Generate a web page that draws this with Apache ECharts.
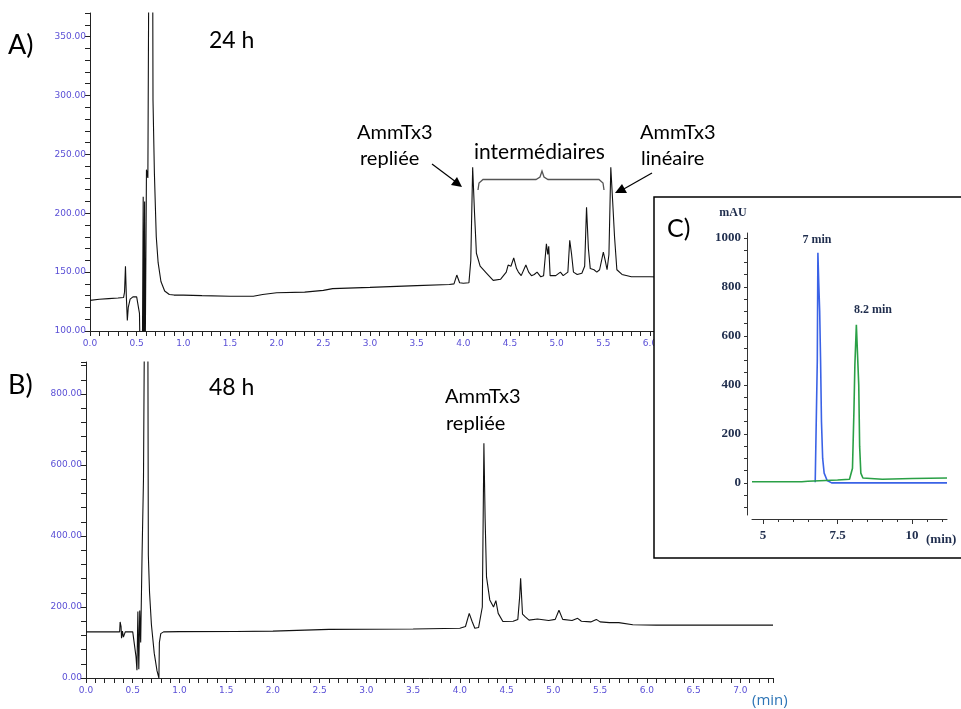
<!DOCTYPE html>
<html>
<head>
<meta charset="utf-8">
<script src="https://cdn.jsdelivr.net/npm/echarts@6/dist/echarts.min.js"></script>
<style>html,body{margin:0;padding:0;background:#fff;}#c{width:961px;height:709px;}</style>
</head>
<body>
<div id="c"></div>
<script>
// ---- Panel A (24 h) ----
const tA = [0.00,0.10,0.20,0.30,0.36,0.37,0.38,0.39,0.40,0.41,0.43,0.46,0.50,0.52,0.53,0.54,0.55,0.56,0.57,0.575,0.585,0.59,0.605,0.62,0.635,0.66,0.675,0.69,0.71,0.73,0.76,0.80,0.85,0.90,1.00,1.20,1.50,1.75,1.85,2.00,2.30,2.50,2.60,3.00,3.50,3.85,3.90,3.93,3.96,4.00,4.06,4.08,4.10,4.12,4.14,4.18,4.25,4.32,4.40,4.46,4.48,4.51,4.54,4.57,4.59,4.62,4.67,4.70,4.73,4.76,4.79,4.83,4.86,4.88,4.89,4.905,4.915,4.93,4.99,5.04,5.07,5.12,5.14,5.16,5.18,5.22,5.27,5.30,5.32,5.34,5.36,5.40,5.43,5.46,5.50,5.52,5.54,5.56,5.58,5.60,5.62,5.645,5.70,5.80,5.90,6.00,6.50,7.00,7.35];
const vA = [126,127,127.5,128,128.5,133,155,128,109,120,127,129,129,128,115,60,80,60,214,80,210,60,237,230,500,800,296,234,180,158,142,134,131,130.5,130.5,130,129.5,129.5,131,132.5,133,134.5,136,137,138.5,139.5,140,147.5,141,140.5,141,160,239,200,166,155,149,143,144,150,156,155,162,153,150,147,156,150,147,148,150,146,147,165,174,165,172,147,147,150,147,150,177,165,150,148,149,155,205,170,153,152,150,152,167,160,152,165,239,210,180,152,148,146,146,146,145,145,145];

// ---- Panel B (48 h) ----
const tB = [0.00,0.30,0.36,0.365,0.375,0.38,0.39,0.40,0.42,0.50,0.52,0.535,0.545,0.555,0.565,0.575,0.585,0.60,0.615,0.63,0.645,0.66,0.667,0.68,0.70,0.73,0.76,0.78,0.785,0.80,0.83,1.00,1.60,2.00,2.60,3.50,4.00,4.06,4.10,4.13,4.16,4.20,4.24,4.257,4.27,4.285,4.32,4.36,4.385,4.41,4.46,4.57,4.62,4.64,4.65,4.67,4.70,4.72,4.74,4.83,4.95,5.02,5.06,5.10,5.20,5.26,5.30,5.40,5.46,5.50,5.60,5.70,5.85,6.10,7.00,7.35];
const vB = [130,130,130,158,145,112,132,115,130,130,130,60,22,187,25,190,100,350,560,1200,2000,1200,346,240,150,70,20,0,100,125,130,130.5,131,132,137,138,140,145,182,160,140,142,200,661,450,285,220,200,218,182,159,160,165,230,281,180,172,175,163,166,162,165,191,165,162,168,160,158,165,158,156,156,150,149,149,149];

// ---- Panel C (inset) ----
const tC7 = [6.75,6.80,6.82,6.84,6.87,6.90,6.93,6.96,7.00,7.05,7.15,7.30,11.17];
const vC7 = [3,3,500,939,810,700,500,250,100,40,10,0,0];
const tC82 = [4.63,6.30,6.50,7.50,7.90,8.00,8.05,8.08,8.13,8.18,8.21,8.24,8.28,8.35,9.00,10.00,11.17];
const vC82 = [5,5,7,12,15,60,300,480,645,640,400,150,40,20,15,18,20];

// tick labels
const xTicksAB = [0,0.5,1,1.5,2,2.5,3,3.5,4,4.5,5,5.5,6,6.5,7];
const yTicksA = [100,150,200,250,300,350];
const yTicksB = [0,200,400,600,800];
const xLabelsC = [5,7.5,10];
const yLabelsC = [0,200,400,600,800,1000];

const pairs = (t, v) => t.map((x, i) => [x, v[i]]);
const near = (v, arr) => arr.some(a => Math.abs(a - v) < 1e-6);

const tickColor = '#5a4fd6';
const axisCol = '#222';
const smallFont = {fontFamily: 'DejaVu Sans', fontSize: 9, color: tickColor};
const serifLbl = {fontFamily: 'Liberation Serif', fontWeight: 'bold', fontSize: 13, color: '#1f2d4d'};

function chromX(gi) {
  return {
    type: 'value', gridIndex: gi, min: 0, max: 7.35, interval: 0.5, position: 'bottom',
    axisLine: {show: true, onZero: false, lineStyle: {color: axisCol, width: 1}},
    axisTick: {show: true, length: 5, lineStyle: {color: axisCol}},
    minorTick: {show: true, splitNumber: 5, length: 5, lineStyle: {color: axisCol}},
    splitLine: {show: false}, minorSplitLine: {show: false},
    axisLabel: Object.assign({margin: 8, formatter: v => near(v, xTicksAB) ? v.toFixed(1) : ''}, smallFont)
  };
}
function chromY(gi, min, max, interval, ticks) {
  return {
    type: 'value', gridIndex: gi, min: min, max: max, interval: interval, position: 'left',
    axisLine: {show: true, onZero: false, lineStyle: {color: axisCol, width: 1}},
    axisTick: {show: true, length: 5, lineStyle: {color: axisCol}},
    minorTick: {show: true, splitNumber: 5, length: 5, lineStyle: {color: axisCol}},
    splitLine: {show: false}, minorSplitLine: {show: false},
    axisLabel: Object.assign({margin: 4, formatter: v => near(v, ticks) ? v.toFixed(2) : ''}, smallFont)
  };
}

const chart = echarts.init(document.getElementById('c'), null, {renderer: 'canvas'});

const txt = (x, y, text, font) => ({
  type: 'text', x: x, y: y, z: 80,
  style: {text: text, font: font, fill: '#000', align: 'left', verticalAlign: 'middle'}
});
const stxt = (x, y, text, font, align) => ({
  type: 'text', x: x, y: y, z: 90,
  style: {text: text, font: font, fill: '#1f2d4d', align: align, verticalAlign: 'middle'}
});

const option = {
  animation: false,
  backgroundColor: '#fff',
  grid: [
    {left: 90, top: 13, width: 686, height: 318},
    {left: 86, top: 362, width: 687, height: 316},
    {left: 752, top: 233, width: 195, height: 282}
  ],
  xAxis: [
    chromX(0),
    chromX(1),
    {
      type: 'value', gridIndex: 2, min: 4.63, max: 11.17, offset: 4, z: 60, position: 'bottom',
      axisLine: {show: true, onZero: false, lineStyle: {color: '#333', width: 1}},
      axisTick: {show: true, length: 5, customValues: xLabelsC, lineStyle: {color: '#333'}},
      splitLine: {show: false},
      axisLabel: Object.assign({margin: 10, customValues: xLabelsC, formatter: v => String(v)}, serifLbl)
    },
    {
      type: 'value', gridIndex: 2, min: 4.63, max: 11.17, offset: 4, z: 60, position: 'bottom',
      axisLine: {show: false, onZero: false},
      axisTick: {show: true, length: 3, customValues: [5.5,6,6.5,7,8,8.5,9,9.5,10.5,11], lineStyle: {color: '#333'}},
      splitLine: {show: false},
      axisLabel: {show: false}
    }
  ],
  yAxis: [
    chromY(0, 100, 370, 50, yTicksA),
    chromY(1, 0, 890, 200, yTicksB),
    {
      type: 'value', gridIndex: 2, min: -131, max: 1020, offset: 5, z: 60, position: 'left',
      axisLine: {show: true, onZero: false, lineStyle: {color: '#333', width: 1}},
      axisTick: {show: true, length: 3, customValues: [-100,-50,0,50,100,150,200,250,300,350,400,450,500,550,600,650,700,750,800,850,900,950,1000], lineStyle: {color: '#333'}},
      splitLine: {show: false},
      axisLabel: Object.assign({margin: 6, customValues: yLabelsC, formatter: v => String(v)}, serifLbl)
    }
  ],
  series: [
    {type: 'line', name: '24 h', xAxisIndex: 0, yAxisIndex: 0, data: pairs(tA, vA), showSymbol: false, symbol: 'none', clip: true, lineStyle: {color: '#111', width: 1.1}},
    {type: 'line', name: '48 h', xAxisIndex: 1, yAxisIndex: 1, data: pairs(tB, vB), showSymbol: false, symbol: 'none', clip: true, lineStyle: {color: '#111', width: 1.1}},
    {type: 'line', name: '7 min', xAxisIndex: 2, yAxisIndex: 2, z: 60, data: pairs(tC7, vC7), showSymbol: false, symbol: 'none', clip: true, lineStyle: {color: '#3a62e6', width: 1.6}},
    {type: 'line', name: '8.2 min', xAxisIndex: 2, yAxisIndex: 2, z: 61, data: pairs(tC82, vC82), showSymbol: false, symbol: 'none', clip: true, lineStyle: {color: '#2aa046', width: 1.6}}
  ],
  graphic: [
    // inset box
    {type: 'rect', z: 50, shape: {x: 654, y: 197, width: 320, height: 361}, style: {fill: '#fff', stroke: '#000', lineWidth: 1.5}},
    // panel letters and times
    txt(8, 45, 'A)', '27px Lato'),
    txt(209, 41, '24 h', '23px Lato'),
    txt(8, 385, 'B)', '27px Lato'),
    txt(209, 388, '48 h', '23px Lato'),
    Object.assign(txt(667, 229, 'C)', '25px Lato'), {z: 90}),
    // annotations A
    txt(357, 133, 'AmmTx3', '20px Lato'),
    txt(360, 159, 'repliée', '20px Lato'),
    txt(474, 152, 'intermédiaires', '21px Lato'),
    txt(640, 133, 'AmmTx3', '20px Lato'),
    txt(641, 159, 'linéaire', '20px Lato'),
    // annotation B
    txt(445, 397, 'AmmTx3', '20px Lato'),
    txt(446, 424, 'repliée', '20px Lato'),
    // arrows
    {type: 'polyline', z: 80, shape: {points: [[432,164],[456,182]]}, style: {stroke: '#000', lineWidth: 1.2, fill: null}},
    {type: 'polygon', z: 80, shape: {points: [[462,187],[451,185],[457,177]]}, style: {fill: '#000'}},
    {type: 'polyline', z: 80, shape: {points: [[652,173],[622,190]]}, style: {stroke: '#000', lineWidth: 1.2, fill: null}},
    {type: 'polygon', z: 80, shape: {points: [[615,193],[622,184],[627,193]]}, style: {fill: '#000'}},
    // brace
    {type: 'polyline', z: 80, shape: {points: [[478,190],[479,183],[483,179.5],[536,179.5],[540,177],[542,171],[544,177],[548,179.5],[599,179.5],[603,183],[604,190]]}, style: {stroke: '#555', lineWidth: 1.3, fill: null}},
    // inset texts
    stxt(733, 213, 'mAU', 'bold 12px "Liberation Serif"', 'center'),
    stxt(817, 240, '7 min', 'bold 12px "Liberation Serif"', 'center'),
    stxt(873, 310, '8.2 min', 'bold 12px "Liberation Serif"', 'center'),
    stxt(926, 540, '(min)', 'bold 13px "Liberation Serif"', 'left'),
    // bottom (min)
    {type: 'text', x: 752, y: 701, z: 90, style: {text: '(min)', font: '15px "Open Sans"', fill: '#2e75b6', align: 'left', verticalAlign: 'middle'}}
  ]
};
chart.setOption(option);
</script>
</body>
</html>
